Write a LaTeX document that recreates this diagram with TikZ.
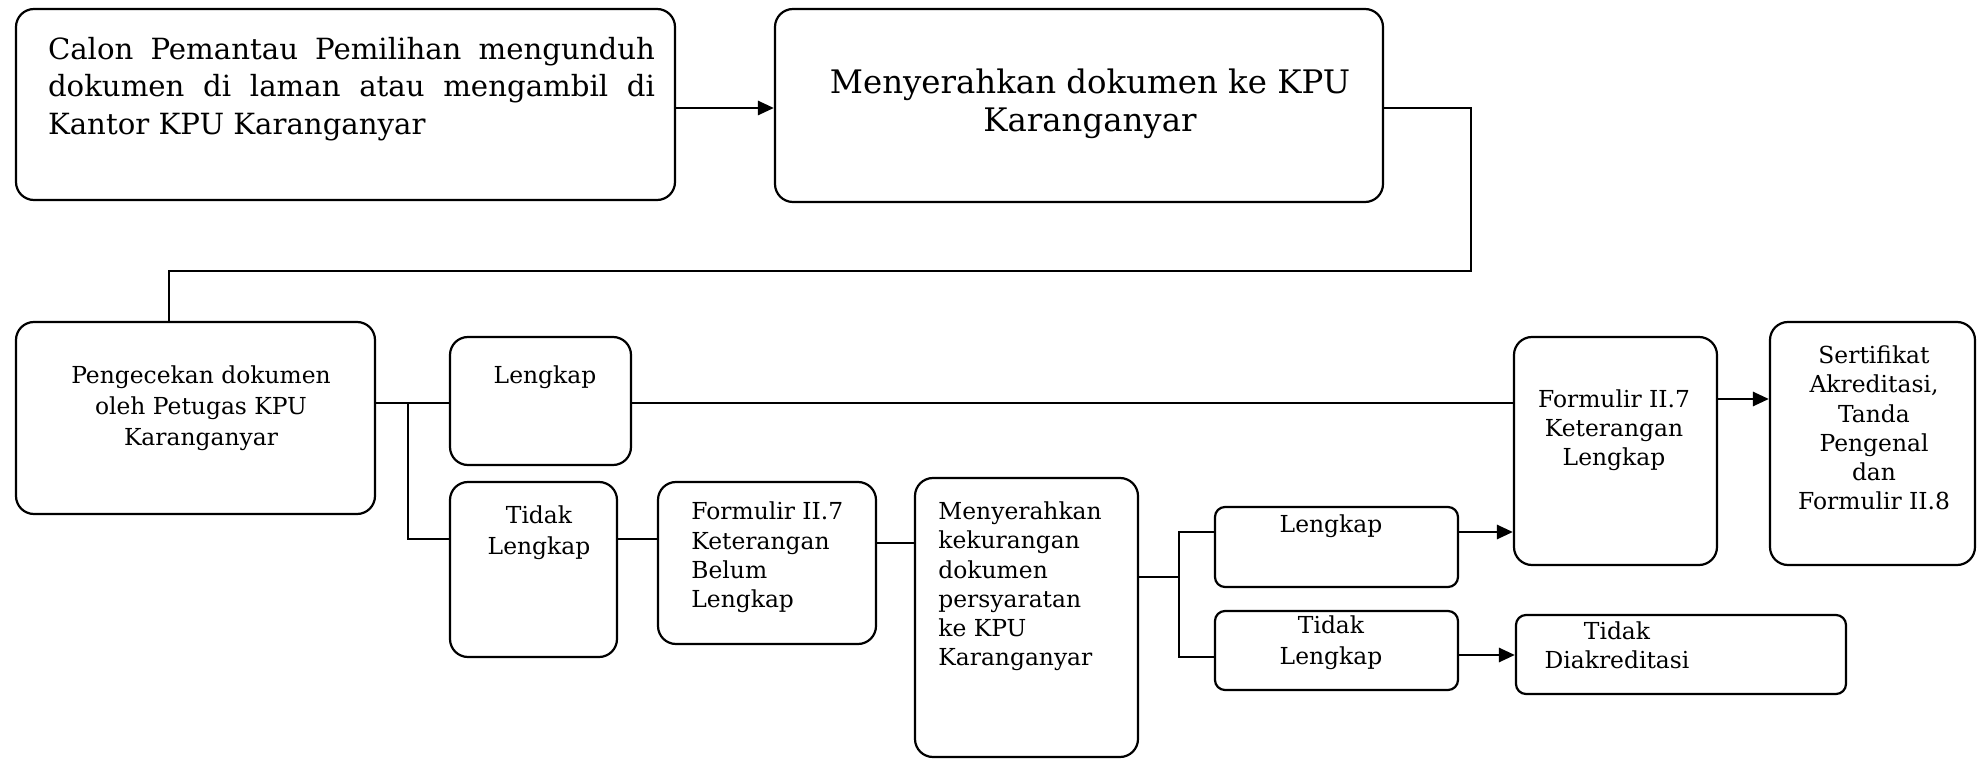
\documentclass[tikz,border=0pt]{standalone}
\usepackage{fontspec}
\setmainfont{DejaVu Serif}
\usetikzlibrary{arrows.meta,calc}
\newcommand\fa{\fontsize{14.6}{18.9}\selectfont}
\newcommand\fb{\fontsize{16.2}{19}\selectfont}
\newcommand\fc{\fontsize{11.7}{15.6}\selectfont}
\newcommand\fd{\fontsize{11.7}{14.6}\selectfont}
\newcommand\jline[1]{\makebox[303.5pt][s]{#1}}
\begin{document}
\begin{tikzpicture}[x=0.5pt,y=-0.5pt,
  box/.style={draw,line width=1.1pt,rounded corners=9pt,inner sep=0pt},
  sbox/.style={box,rounded corners=5pt},
  txt/.style={inner sep=0pt,align=center},
  con/.style={line width=0.9pt},
  arr/.style={line width=1.4pt,-{Triangle[length=8pt,width=7pt]}}]
\useasboundingbox (0,0) rectangle (1988,759);
% boxes
\node[box,minimum width=329.5pt,minimum height=95.5pt] (b1) at (345.5,104.5) {};
\node[box,minimum width=304pt,minimum height=96.5pt] (b2) at (1079,105.5) {};
\node[box,minimum width=179.5pt,minimum height=96pt] (b3) at (195.5,418) {};
\node[box,minimum width=90.5pt,minimum height=64pt] (lk1) at (540.5,401) {};
\node[box,minimum width=83.5pt,minimum height=87.5pt] (tl1) at (533.5,569.5) {};
\node[box,minimum width=109pt,minimum height=81pt] (fbl) at (767,563) {};
\node[box,minimum width=111.5pt,minimum height=139.5pt] (mk) at (1026.5,617.5) {};
\node[sbox,minimum width=121.5pt,minimum height=40pt] (lk2) at (1336.5,547) {};
\node[sbox,minimum width=121.5pt,minimum height=39.5pt] (tl2) at (1336.5,650.5) {};
\node[box,minimum width=101.5pt,minimum height=114pt] (fl) at (1615.5,451) {};
\node[box,minimum width=102.5pt,minimum height=121.5pt] (sa) at (1872.5,443.5) {};
\node[sbox,minimum width=165pt,minimum height=39.5pt] (td) at (1681,654.5) {};
% texts
\node[txt,align=left,font=\fa] (t1) at (351.5,89)
  {\jline{Calon Pemantau Pemilihan mengunduh}\\\jline{dokumen di laman atau mengambil di}\\\makebox[303.5pt][l]{Kantor KPU Karanganyar}};
\node[txt,font=\fb] (t2) at (1090,104) {Menyerahkan dokumen ke KPU\\Karanganyar};
\node[txt,font=\fc] (t3) at (201,408) {Pengecekan dokumen\\oleh Petugas KPU\\Karanganyar};
\node[txt,font=\fc] (t4) at (545,377) {Lengkap};
\node[txt,font=\fc] (t5) at (539,533) {Tidak\\Lengkap};
\node[txt,font=\fd,align=left,anchor=west] (t6) at (691,557.5) {Formulir II.7\\Keterangan\\Belum\\Lengkap};
\node[txt,font=\fd,align=left,anchor=west] (t7) at (938,586.5) {Menyerahkan\\kekurangan\\dokumen\\persyaratan\\ke KPU\\Karanganyar};
\node[txt,font=\fc] (t8) at (1331,526) {Lengkap};
\node[txt,font=\fc] (t9) at (1331,643) {Tidak\\Lengkap};
\node[txt,font=\fd] (t10) at (1614,430.5) {Formulir II.7\\Keterangan\\Lengkap};
\node[txt,font=\fd] (t11) at (1874,428) {Sertifikat\\Akreditasi,\\Tanda\\Pengenal\\dan\\Formulir II.8};
\node[txt,font=\fd] (t12) at (1617,645) {Tidak\\Diakreditasi};
% connectors
\draw[arr] (b1.east |- 0,108) -- (b2.west |- 0,108);
\draw[con] (b2.east |- 0,108) -| (1471,271) -| ($(b3.north)+(-26.5,0)$);
\draw[con] (b3.east |- 0,403) -- (lk1.west |- 0,403);
\draw[con] (408,403) |- (tl1.west |- 0,539);
\draw[con] (tl1.east |- 0,539) -- (fbl.west |- 0,539);
\draw[con] (fbl.east |- 0,543) -- (mk.west |- 0,543);
\draw[con] (mk.east |- 0,577) -- (1179,577);
\draw[con] (lk2.west |- 0,532) -| (1179,657) -- (tl2.west |- 0,657);
\draw[con] (lk1.east |- 0,403) -- (fl.west |- 0,403);
\draw[arr] (lk2.east |- 0,532) -- (fl.west |- 0,532);
\draw[arr] (tl2.east |- 0,655) -- (td.west |- 0,655);
\draw[arr] (fl.east |- 0,399) -- (sa.west |- 0,399);
\end{tikzpicture}
\end{document}
